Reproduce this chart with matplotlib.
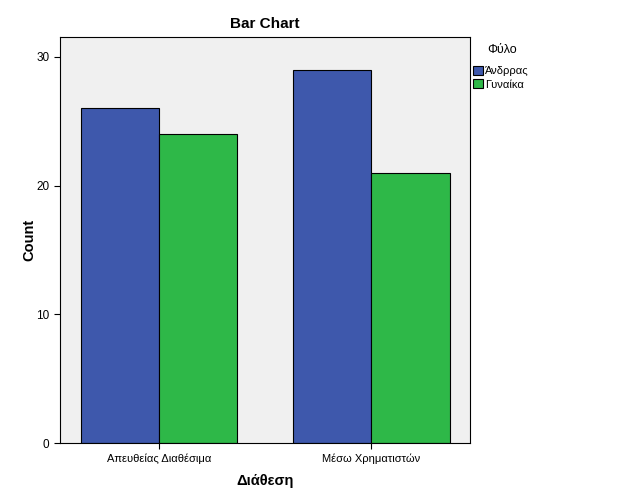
import numpy as np
import matplotlib
matplotlib.use("Agg")
import matplotlib.pyplot as plt
from matplotlib.patches import Patch

plt.rcParams['font.family'] = ['Liberation Sans', 'DejaVu Sans']

categories = ['Απευθείας Διαθέσιμα', 'Μέσω Χρηματιστών']
series_names = ['Άνδρρας', 'Γυναίκα']
men = [26, 29]
women = [24, 21]
colors = ['#3e58ac', '#2eb848']

fig = plt.figure(figsize=(6.29, 5.04), dpi=100)
ax = fig.add_axes([0.0954, 0.121, 0.652, 0.806])
ax.set_facecolor('#f0f0f0')

x = np.arange(len(categories))
w = 0.37
ax.bar(x - w/2, men, w, color=colors[0], edgecolor='black', linewidth=0.8)
ax.bar(x + w/2, women, w, color=colors[1], edgecolor='black', linewidth=0.8)

ax.set_xlim(-0.467, 1.467)
ax.set_ylim(0, 31.55)
ax.set_xticks(x)
ax.set_xticklabels(categories, fontsize=8)
ax.set_yticks([0, 10, 20, 30])
ax.tick_params(axis='y', labelsize=8.5, length=4, width=0.8)
ax.tick_params(axis='x', length=4, width=0.8)
for s in ax.spines.values():
    s.set_linewidth(0.8)

ax.set_title('Bar Chart', fontsize=11, fontweight='bold', pad=6)
ax.set_xlabel('Διάθεση', fontsize=10.5, fontweight='bold', labelpad=7)
ax.set_ylabel('Count', fontsize=10.5, fontweight='bold', labelpad=0)

# legend title drawn separately so it can sit apart from the entries
fig.text(0.774, 0.901, 'Φύλο', fontsize=9, va='center', ha='left')
handles = [Patch(facecolor=c, edgecolor='black', linewidth=0.8) for c in colors]
leg = fig.legend(handles, series_names, loc='upper left',
                 bbox_to_anchor=(0.7515, 0.869), frameon=False, fontsize=8,
                 handlelength=0.9, handleheight=0.9,
                 handletextpad=0.2, labelspacing=0.25, borderaxespad=0,
                 borderpad=0)

fig.savefig('out.png', dpi=100)
